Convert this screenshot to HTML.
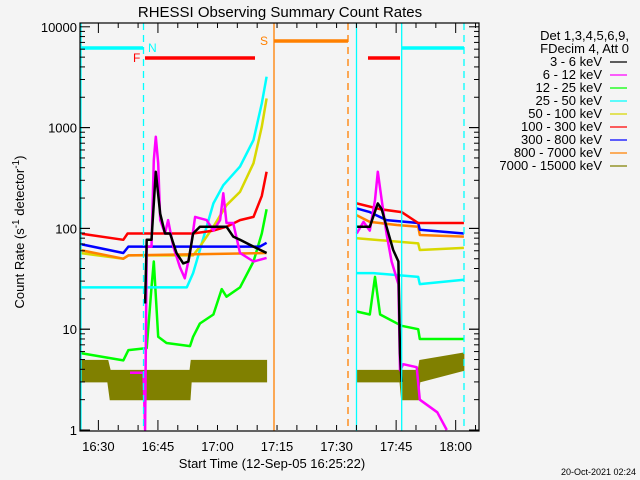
<!DOCTYPE html>
<html><head><meta charset="utf-8"><style>
html,body{margin:0;padding:0;background:#f4f4f4;}
svg{display:block;font-family:"Liberation Sans",sans-serif;}
text{fill:#000;font-size:13px;}
</style></head><body>
<svg id="chart" width="640" height="480" viewBox="0 0 640 480" xmlns="http://www.w3.org/2000/svg">
<rect x="0" y="0" width="640" height="480" fill="#f4f4f4"/>
<text x="280" y="17" text-anchor="middle" font-size="15" style="font-size:15px">RHESSI Observing Summary Count Rates</text>
<text x="272" y="468" text-anchor="middle">Start Time (12-Sep-05 16:25:22)</text>
<text transform="translate(24,232) rotate(-90)" text-anchor="middle">Count Rate (s<tspan dy="-5" font-size="10">-1</tspan><tspan dy="5"> detector</tspan><tspan dy="-5" font-size="10">-1</tspan><tspan dy="5">)</tspan></text>
<text x="636" y="475" text-anchor="end" style="font-size:9px">20-Oct-2021 02:24</text>
<g id="plot"></g>
<g id="legend"></g>
</svg>
<script>
// ---- data ----
const xTickLabels = ["16:30","16:45","17:00","17:15","17:30","17:45","18:00"];
const xTickMinutes = [4.63,19.63,34.63,49.63,64.63,79.63,94.63];
const yTickValues = [1,10,100,1000,10000];
const yTickLabels = ["1","10","100","1000","10000"];
const legendLabels = ["3 - 6 keV","6 - 12 keV","12 - 25 keV","25 - 50 keV","50 - 100 keV","100 - 300 keV","300 - 800 keV","800 - 7000 keV","7000 - 15000 keV"];
const legendColors = ["#000000","#ff00ff","#00ff00","#00ffff","#d8d800","#ff0000","#0000ff","#ff8000","#808000"];

// times in minutes since 16:25:22
const blackT = [16.4,16.8,18.0,19.1,20.2,21.4,22.7,24.3,26.0,27.3,28.5,30.2,36.9,38.6,40.3,43.7,47.0];
const blackV = [18,77,77,365,140,89,89,57,45,47,89,104,104,83,77,66,57];
const blackT2 = [69.7,73.0,75.0,76.0,77.2,78.9,80.2,80.6,81.0];
const blackV2 = [104,104,177,155,104,61,47,5.8,3];

const magT = [12.6,16.0,16.4,16.8,18.0,18.6,19.1,19.7,20.2,21.4,22.2,23.5,25.2,26.4,27.7,29.0,31.9,33.6,35.3,36.1,36.9,38.6,40.3,43.7,47.0];
const magV = [3.7,3.7,1,66,66,476,813,443,121,89,121,66,41,32,57,130,121,95,121,223,113,113,57,47,51];
const magT2 = [69.7,71.4,73.0,74.3,75.0,76.0,77.2,78.5,80.2,80.6,81.4,84.8,85.6,90.0,92.4];
const magV2 = [89,116,95,191,365,191,89,47,28,3.9,4.5,4.2,2.0,1.5,1];

const greenT = [0,10.9,12.2,16.8,18.0,18.6,19.7,21.8,27.7,28.5,30.2,33.6,35.7,36.9,40.3,43.7,45.8,47.0];
const greenV = [5.8,4.9,6.2,6.5,26,47,8.4,7.3,6.8,8.4,11.4,14,25,21,26,47,89,155];
const greenT2 = [69.7,73.0,74.3,75.6,81.0,85.2,85.6,96.7];
const greenV2 = [15,14,33,14,10.8,10,8,8];

const cyanT = [0,10.9,26.9,28.5,30.2,33.6,36.1,40.3,43.7,45.8,47.0];
const cyanV = [26,26,26,36,61,177,268,410,753,1740,3200];
const cyanT2 = [69.7,73.9,85.2,85.6,96.7];
const cyanV2 = [36,36,33,28,31];

const yellowT = [0,10.9,12.2,28.5,30.2,33.6,36.9,40.3,43.7,45.8,47.0];
const yellowV = [57,50,54,54,66,104,170,230,443,1020,1950];
const yellowT2 = [69.7,85.2,85.6,96.7];
const yellowV2 = [80,71,61,64];

const orangeT = [0,10.9,12.2,47.0];
const orangeV = [61,50,54,57];
const orangeT2 = [69.7,73.0,79.8,85.2,85.6,96.7];
const orangeV2 = [135,116,108,104,86,83];

const blueT = [0,10.9,12.2,45.3,47.0];
const blueV = [70,57,66,66,72];
const blueT2 = [69.7,73.0,77.2,85.2,85.6,96.7];
const blueV2 = [158,145,121,113,97,89];

const redT = [0,10.9,12.0,28.5,33.6,36.9,40.3,43.7,45.8,47.0];
const redV = [89,77,89,89,95,104,121,130,210,365];
const redT2 = [69.7,75.6,81.0,85.2,85.6,96.7];
const redV2 = [177,155,145,113,113,113];

// 7000-15000 keV band envelopes
const oliveT = [0,7.0,7.6,22.0,27.7,28.0,47.0];
const oliveLo = [3.0,3.0,2.0,2.0,2.0,3.0,3.0];
const oliveHi = [4.9,4.9,3.9,3.9,3.9,4.9,4.9];
const oliveT2 = [69.7,80.6,81.0,85.2,85.6,96.7];
const oliveLo2 = [3.0,3.0,2.0,2.0,3.0,3.9];
const oliveHi2 = [3.9,3.9,3.9,3.9,4.9,5.8];

// ---- axes ----
const X0=80, X1=479, YT=23, YB=430, PXMIN=3.97, DEC=100.8;
const xs = t => X0 + t*PXMIN;
const ys = v => YB - DEC*Math.log10(v);
const NS="http://www.w3.org/2000/svg";
const plot=document.getElementById('plot');
function mk(tag, attrs, parent){const e=document.createElementNS(NS,tag);for(const k in attrs)e.setAttribute(k,attrs[k]);(parent||plot).appendChild(e);return e;}
function pts(T,V){return T.map((t,i)=>xs(t).toFixed(1)+","+ys(V[i]).toFixed(1)).join(" ");}

// olive bands
[[oliveT,oliveLo,oliveHi],[oliveT2,oliveLo2,oliveHi2]].forEach((b,k)=>{
  const p = pts(b[0],b[2])+" "+pts(b[0].slice().reverse(),b[1].slice().reverse());
  const e=mk('polygon',{points:p,fill:"#808000",stroke:"#808000","stroke-width":1});
  
  
});

const series=[
 ["series-12-25-kev","#00ff00",greenT,greenV,greenT2,greenV2],
 ["series-25-50-kev","#00ffff",cyanT,cyanV,cyanT2,cyanV2],
 ["series-50-100-kev","#d8d800",yellowT,yellowV,yellowT2,yellowV2],
 ["series-800-7000-kev","#ff8000",orangeT,orangeV,orangeT2,orangeV2],
 ["series-300-800-kev","#0000ff",blueT,blueV,blueT2,blueV2],
 ["series-100-300-kev","#ff0000",redT,redV,redT2,redV2],
 ["series-6-12-kev","#ff00ff",magT,magV,magT2,magV2],
 ["series-3-6-kev","#000000",blackT,blackV,blackT2,blackV2]
];
series.forEach(s=>{
  [[s[2],s[3]],[s[4],s[5]]].forEach(seg=>{
    const e=mk('polyline',{points:pts(seg[0],seg[1]),fill:"none",stroke:s[1],"stroke-width":2.5,"stroke-linejoin":"round"});
    
    
  });
});

// annotation lines
function vline(x,color,dash,name){
  const e=mk('line',{x1:x,x2:x,y1:YT,y2:YB+1,stroke:color,"stroke-width":1.3,"stroke-dasharray":dash||"none"});
  
  
}
vline(81,"#00ffff",null,"night-end-line");
vline(143.5,"#00ffff","7,5","night-start-line");
vline(274,"#ff8000",null,"saa-start-line");
vline(348,"#ff8000","7,5","saa-end-line");
vline(356.5,"#00ffff",null,"data-resume-line");
vline(401.7,"#00ffff",null,"night-line-2");
vline(464,"#00ffff","7,5","night-end-line-2");
function hbar(x1,x2,y,color,name){
  const e=mk('line',{x1:x1,x2:x2,y1:y,y2:y,stroke:color,"stroke-width":3.5});
  
  
}
hbar(80,143,48,"#00ffff","night-bar-1");
hbar(145,255,58,"#ff0000","flare-bar-1");
hbar(274,348,41,"#ff8000","saa-bar");
hbar(368,400,58,"#ff0000","flare-bar-2");
hbar(402,464,48,"#00ffff","night-bar-2");
function lbl(x,y,t,c,name){const e=mk('text',{x:x,y:y,fill:c,style:"fill:"+c+";font-size:12px"});e.textContent=t;
  
  }
lbl(148,52,"N","#00ffff","night-label");
lbl(133,62,"F","#ff0000","flare-label");
lbl(260,45,"S","#ff8000","saa-label");

// frame
const fr=mk('rect',{x:X0,y:YT,width:X1-X0,height:YB-YT+1,fill:"none",stroke:"#000","stroke-width":1.2});



// x ticks
for(let m=-0.37;m<=100.5;m+=5){
  const x=xs(m); if(x<X0||x>X1) continue;
  const major=Math.abs(((m-4.63)%15+15)%15)<0.1;
  const L=major?10:5;
  mk('line',{x1:x,x2:x,y1:YB,y2:YB-L,stroke:"#000","stroke-width":1});
  mk('line',{x1:x,x2:x,y1:YT,y2:YT+L,stroke:"#000","stroke-width":1});
}
xTickLabels.forEach((l,i)=>{
  const e=mk('text',{x:xs(xTickMinutes[i]),y:451,"text-anchor":"middle"});e.textContent=l;
  
  
});
// y ticks
for(let d=0;d<4;d++){for(let k=1;k<=10;k++){
  const v=Math.pow(10,d)*k; const y=ys(v); const major=(k===1||k===10);const L=major?10:5;
  mk('line',{x1:X0,x2:X0+L,y1:y,y2:y,stroke:"#000","stroke-width":1});
  mk('line',{x1:X1,x2:X1-L,y1:y,y2:y,stroke:"#000","stroke-width":1});
}}
yTickValues.forEach((v,i)=>{
  const e=mk('text',{x:77,y:ys(v)+5,"text-anchor":"end"});e.textContent=yTickLabels[i];
  
  
});

// legend
const lg=document.getElementById('legend');
const h1=mk('text',{x:629,y:40,"text-anchor":"end"},lg);h1.textContent="Det 1,3,4,5,6,9,";


const h2=mk('text',{x:629,y:53,"text-anchor":"end"},lg);h2.textContent="FDecim 4, Att 0";


legendLabels.forEach((l,i)=>{
  const y=62+i*13;
  const t=mk('text',{x:602,y:y+4,"text-anchor":"end"},lg);t.textContent=l;
  
  
  const ln=mk('line',{x1:610,x2:627,y1:y,y2:y,stroke:legendColors[i],"stroke-width":1.3},lg);
  
  
});
</script>
</body></html>
